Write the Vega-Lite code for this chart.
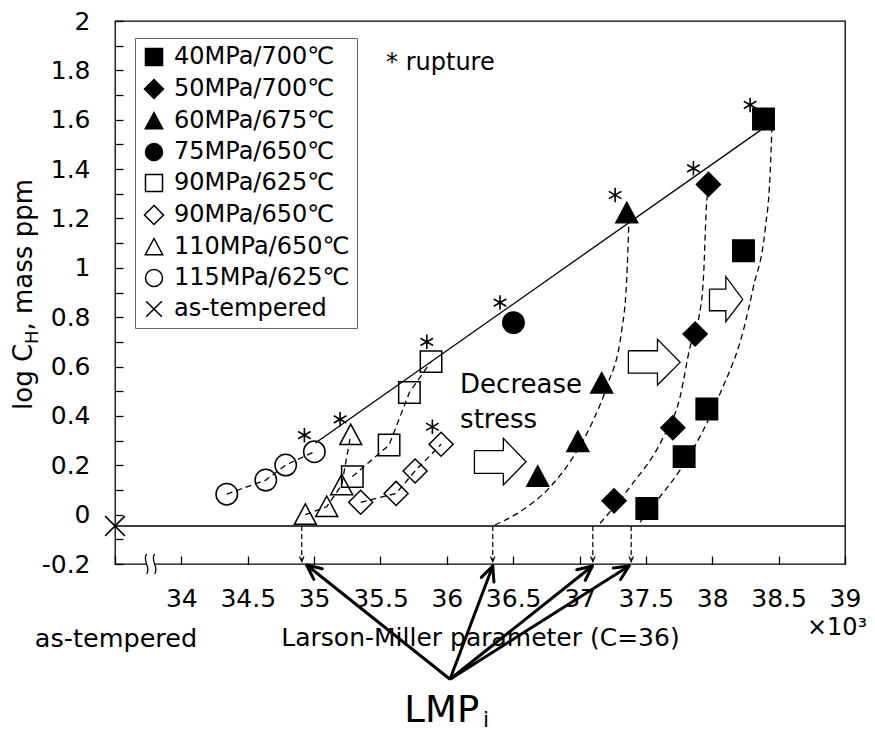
{
  "$schema": "https://vega.github.io/schema/vega-lite/v6.json",
  "width": 730,
  "height": 543,
  "autosize": {"type": "none"},
  "padding": {"left": 115, "top": 21, "right": 30, "bottom": 169},
  "background": "white",
  "config": {"font": "DejaVu Sans", "view": {"stroke": "black", "strokeWidth": 1.3}},
  "datasets": {
    "pts": [
      {"s": "40MPa/700℃", "x": 37.507, "y": 0.025},
      {"s": "40MPa/700℃", "x": 37.788, "y": 0.235},
      {"s": "40MPa/700℃", "x": 37.959, "y": 0.428},
      {"s": "40MPa/700℃", "x": 38.235, "y": 1.069},
      {"s": "40MPa/700℃", "x": 38.386, "y": 1.603},
      {"s": "50MPa/700℃", "x": 37.26, "y": 0.056},
      {"s": "50MPa/700℃", "x": 37.703, "y": 0.352},
      {"s": "50MPa/700℃", "x": 37.871, "y": 0.732},
      {"s": "50MPa/700℃", "x": 37.971, "y": 1.338},
      {"s": "60MPa/675℃", "x": 36.685, "y": 0.154},
      {"s": "60MPa/675℃", "x": 36.987, "y": 0.295},
      {"s": "60MPa/675℃", "x": 37.167, "y": 0.532},
      {"s": "60MPa/675℃", "x": 37.356, "y": 1.222},
      {"s": "75MPa/650℃", "x": 36.502, "y": 0.778},
      {"s": "90MPa/625℃", "x": 35.288, "y": 0.154},
      {"s": "90MPa/625℃", "x": 35.565, "y": 0.282},
      {"s": "90MPa/625℃", "x": 35.718, "y": 0.495},
      {"s": "90MPa/625℃", "x": 35.881, "y": 0.62},
      {"s": "90MPa/650℃", "x": 35.351, "y": 0.05},
      {"s": "90MPa/650℃", "x": 35.618, "y": 0.086},
      {"s": "90MPa/650℃", "x": 35.761, "y": 0.177},
      {"s": "90MPa/650℃", "x": 35.957, "y": 0.285},
      {"s": "110MPa/650℃", "x": 34.934, "y": 0.0},
      {"s": "110MPa/650℃", "x": 35.095, "y": 0.032},
      {"s": "110MPa/650℃", "x": 35.208, "y": 0.12},
      {"s": "110MPa/650℃", "x": 35.276, "y": 0.323},
      {"s": "115MPa/625℃", "x": 34.342, "y": 0.083},
      {"s": "115MPa/625℃", "x": 34.636, "y": 0.14},
      {"s": "115MPa/625℃", "x": 34.786, "y": 0.201},
      {"s": "115MPa/625℃", "x": 35.002, "y": 0.255},
      {"s": "as-tempered", "x": 33.5, "y": -0.046}
    ],
    "base": [{"x": 33.5, "x2": 39, "y": -0.046}],
    "fit": [{"x": 35.01, "y": 0.29}, {"x": 38.37, "y": 1.56}],
    "lin": [
      {"c": "a115", "x": 34.342, "y": 0.083}, {"c": "a115", "x": 34.636, "y": 0.14}, {"c": "a115", "x": 34.786, "y": 0.201}, {"c": "a115", "x": 35.002, "y": 0.255},
      {"c": "a110", "x": 34.934, "y": 0.0}, {"c": "a110", "x": 35.095, "y": 0.032}, {"c": "a110", "x": 35.208, "y": 0.12}, {"c": "a110", "x": 35.276, "y": 0.323},
      {"c": "a90a", "x": 35.288, "y": 0.154}, {"c": "a90a", "x": 35.565, "y": 0.282}, {"c": "a90a", "x": 35.718, "y": 0.495}, {"c": "a90a", "x": 35.881, "y": 0.62},
      {"c": "a90b", "x": 35.351, "y": 0.05}, {"c": "a90b", "x": 35.618, "y": 0.086}, {"c": "a90b", "x": 35.761, "y": 0.177}, {"c": "a90b", "x": 35.957, "y": 0.285}
    ],
    "crv": [
      {"c": "c60", "x": 36.362, "y": -0.042}, {"c": "c60", "x": 36.552, "y": 0.012}, {"c": "c60", "x": 36.78, "y": 0.113}, {"c": "c60", "x": 36.954, "y": 0.235}, {"c": "c60", "x": 37.104, "y": 0.383}, {"c": "c60", "x": 37.205, "y": 0.518}, {"c": "c60", "x": 37.318, "y": 0.748}, {"c": "c60", "x": 37.355, "y": 0.951}, {"c": "c60", "x": 37.372, "y": 1.19},
      {"c": "c50", "x": 37.155, "y": -0.035}, {"c": "c50", "x": 37.381, "y": 0.113}, {"c": "c50", "x": 37.62, "y": 0.302}, {"c": "c50", "x": 37.758, "y": 0.478}, {"c": "c50", "x": 37.833, "y": 0.68}, {"c": "c50", "x": 37.896, "y": 0.789}, {"c": "c50", "x": 37.934, "y": 0.964}, {"c": "c50", "x": 37.959, "y": 1.275}, {"c": "c50", "x": 37.962, "y": 1.29},
      {"c": "c40", "x": 37.456, "y": -0.03}, {"c": "c40", "x": 37.607, "y": 0.073}, {"c": "c40", "x": 37.758, "y": 0.181}, {"c": "c40", "x": 37.933, "y": 0.343}, {"c": "c40", "x": 38.059, "y": 0.491}, {"c": "c40", "x": 38.235, "y": 0.748}, {"c": "c40", "x": 38.31, "y": 0.923}, {"c": "c40", "x": 38.398, "y": 1.153}, {"c": "c40", "x": 38.436, "y": 1.383}, {"c": "c40", "x": 38.449, "y": 1.56}
    ],
    "drops": [
      {"x": 34.907, "y": -0.046, "y2": -0.19},
      {"x": 36.346, "y": -0.046, "y2": -0.19},
      {"x": 37.1, "y": -0.046, "y2": -0.19},
      {"x": 37.389, "y": -0.046, "y2": -0.19}
    ],
    "arrows": [
      {"x": 36.024, "y": -0.667, "x2": 34.944, "y2": -0.204},
      {"x": 36.024, "y": -0.667, "x2": 36.346, "y2": -0.208},
      {"x": 36.024, "y": -0.667, "x2": 37.097, "y2": -0.208},
      {"x": 36.024, "y": -0.667, "x2": 37.373, "y2": -0.208}
    ],
    "wings": [
      {"x": 34.944, "y": -0.204, "x2": 34.998, "y2": -0.262},
      {"x": 34.944, "y": -0.204, "x2": 35.062, "y2": -0.219},
      {"x": 36.346, "y": -0.208, "x2": 36.26, "y2": -0.254},
      {"x": 36.346, "y": -0.208, "x2": 36.355, "y2": -0.273},
      {"x": 37.097, "y": -0.208, "x2": 36.979, "y2": -0.223},
      {"x": 37.097, "y": -0.208, "x2": 37.043, "y2": -0.266},
      {"x": 37.373, "y": -0.208, "x2": 37.254, "y2": -0.216},
      {"x": 37.373, "y": -0.208, "x2": 37.309, "y2": -0.263}
    ],
    "blk": [
      {"a": 1, "k": 1, "x": 36.208, "y": 0.259}, {"a": 1, "k": 2, "x": 36.426, "y": 0.259}, {"a": 1, "k": 3, "x": 36.426, "y": 0.309}, {"a": 1, "k": 4, "x": 36.597, "y": 0.214}, {"a": 1, "k": 5, "x": 36.426, "y": 0.12}, {"a": 1, "k": 6, "x": 36.426, "y": 0.167}, {"a": 1, "k": 7, "x": 36.208, "y": 0.167}, {"a": 1, "k": 8, "x": 36.208, "y": 0.259},
      {"a": 2, "k": 1, "x": 37.368, "y": 0.664}, {"a": 2, "k": 2, "x": 37.587, "y": 0.664}, {"a": 2, "k": 3, "x": 37.587, "y": 0.71}, {"a": 2, "k": 4, "x": 37.758, "y": 0.617}, {"a": 2, "k": 5, "x": 37.587, "y": 0.525}, {"a": 2, "k": 6, "x": 37.587, "y": 0.573}, {"a": 2, "k": 7, "x": 37.368, "y": 0.573}, {"a": 2, "k": 8, "x": 37.368, "y": 0.664},
      {"a": 3, "k": 1, "x": 37.979, "y": 0.914}, {"a": 3, "k": 2, "x": 38.102, "y": 0.914}, {"a": 3, "k": 3, "x": 38.102, "y": 0.964}, {"a": 3, "k": 4, "x": 38.23, "y": 0.872}, {"a": 3, "k": 5, "x": 38.102, "y": 0.782}, {"a": 3, "k": 6, "x": 38.102, "y": 0.826}, {"a": 3, "k": 7, "x": 37.979, "y": 0.826}, {"a": 3, "k": 8, "x": 37.979, "y": 0.914}
    ],
    "stars": [
      {"x": 34.927, "y": 0.322}, {"x": 35.196, "y": 0.386}, {"x": 35.849, "y": 0.7}, {"x": 35.891, "y": 0.356},
      {"x": 36.401, "y": 0.859}, {"x": 37.268, "y": 1.295}, {"x": 37.858, "y": 1.403}, {"x": 38.285, "y": 1.66}
    ],
    "brk": [{"x": 33.776, "y": -0.2}],
    "txt": [
      {"g": "yt1", "t": "log C", "x": 32.875, "y": 0.424},
      {"g": "yt2", "t": "H", "x": 32.875, "y": 0.691},
      {"g": "yt3", "t": ", mass ppm", "x": 32.875, "y": 0.746},
      {"g": "dec", "t": "Decrease", "x": 36.1, "y": 0.4915},
      {"g": "dec", "t": "stress", "x": 36.1, "y": 0.351},
      {"g": "rup", "t": "* rupture", "x": 35.542, "y": 1.8},
      {"g": "ast", "t": "as-tempered", "x": 33.5075, "y": -0.535},
      {"g": "ten", "t": "×10³", "x": 38.713, "y": -0.486},
      {"g": "lmp", "t": "LMP", "x": 35.68, "y": -0.839},
      {"g": "sub", "t": "i", "x": 36.273, "y": -0.862}
    ]
  },
  "encoding": {
    "x": {
      "field": "x", "type": "quantitative",
      "scale": {"domain": [33.5, 39], "nice": false, "zero": false},
      "axis": {
        "values": [33.5, 34, 34.5, 35, 35.5, 36, 36.5, 37, 37.5, 38, 38.5, 39],
        "labelExpr": "datum.value < 33.9 ? '' : format(datum.value, '.1~f')",
        "domain": false, "grid": false,
        "tickSize": -8, "tickColor": "black", "tickWidth": 1.3,
        "labelFont": "DejaVu Sans", "labelFontSize": 25, "labelColor": "black",
        "labelPadding": 30.5, "labelFlush": false, "labelOverlap": false,
        "title": "Larson-Miller parameter (C=36)",
        "titleFont": "DejaVu Sans", "titleFontSize": 25, "titleFontWeight": "normal", "titleColor": "black",
        "titleY": 81, "titleBaseline": "alphabetic"
      }
    },
    "y": {
      "field": "y", "type": "quantitative",
      "scale": {"domain": [-0.2, 2], "nice": false, "zero": false},
      "axis": {
        "values": [-0.2, -0.1, 0, 0.1, 0.2, 0.3, 0.4, 0.5, 0.6, 0.7, 0.8, 0.9, 1, 1.1, 1.2, 1.3, 1.4, 1.5, 1.6, 1.7, 1.8, 1.9, 2],
        "labelExpr": "datum.value < -0.15 ? '-0.2' : (round(datum.value * 10) % 2 == 0 ? format(datum.value, '.1~f') : '')",
        "domain": false, "grid": false,
        "tickSize": -8, "tickColor": "black", "tickWidth": 1.3,
        "labelFont": "DejaVu Sans", "labelFontSize": 25, "labelColor": "black",
        "labelPadding": 33, "labelFlush": false, "labelOverlap": false,
        "title": null
      }
    }
  },
  "layer": [
    {"data": {"name": "base"}, "mark": {"type": "rule", "color": "black", "strokeWidth": 1.3},
     "encoding": {"x2": {"field": "x2"}}},
    {"data": {"name": "fit"}, "mark": {"type": "line", "color": "black", "strokeWidth": 1.3}, "encoding": {}},
    {"data": {"name": "lin"}, "mark": {"type": "line", "color": "black", "strokeWidth": 1.3, "strokeDash": [6, 4]},
     "encoding": {"detail": {"field": "c"}}},
    {"data": {"name": "crv"}, "mark": {"type": "line", "color": "black", "strokeWidth": 1.3, "strokeDash": [6, 4], "interpolate": "monotone"},
     "encoding": {"detail": {"field": "c"}}},
    {"data": {"name": "drops"}, "mark": {"type": "rule", "color": "black", "strokeWidth": 1.2, "strokeDash": [5, 3]},
     "encoding": {"y2": {"field": "y2"}}},
    {"data": {"name": "drops"}, "mark": {"type": "point", "shape": "M-0.45,-1L0,0L0.45,-1", "size": 100, "stroke": "black", "strokeWidth": 1.2, "fill": "transparent", "opacity": 1},
     "encoding": {"y": {"field": "y2", "type": "quantitative"}}},
    {"data": {"name": "arrows"}, "mark": {"type": "rule", "color": "black", "strokeWidth": 3},
     "encoding": {"x2": {"field": "x2"}, "y2": {"field": "y2"}}},
    {"data": {"name": "wings"}, "mark": {"type": "rule", "color": "black", "strokeWidth": 3, "strokeCap": "round"},
     "encoding": {"x2": {"field": "x2"}, "y2": {"field": "y2"}}},
    {"data": {"name": "blk"}, "mark": {"type": "line", "color": "black", "strokeWidth": 1.3},
     "encoding": {"detail": {"field": "a"}, "order": {"field": "k", "type": "quantitative"}}},
    {"data": {"name": "pts"},
     "mark": {"type": "point", "filled": true, "strokeWidth": 1.5, "opacity": 1, "size": 460},
     "encoding": {
       "shape": {"field": "s", "type": "nominal", "title": null,
         "scale": {"domain": ["40MPa/700℃", "50MPa/700℃", "60MPa/675℃", "75MPa/650℃", "90MPa/625℃", "90MPa/650℃", "110MPa/650℃", "115MPa/625℃", "as-tempered"],
                   "range": ["square", "M0,-1.12L1.12,0L0,1.12L-1.12,0Z", "M0,-1L1.02,0.9L-1.02,0.9Z", "circle", "square", "M0,-1.12L1.12,0L0,1.12L-1.12,0Z", "M0,-1L1.02,0.9L-1.02,0.9Z", "circle", "M-0.92,-0.92L0.92,0.92M-0.92,0.92L0.92,-0.92"]},
         "legend": {"title": null, "orient": "none", "legendX": 20, "legendY": 17, "strokeColor": "#666", "fillColor": "white",
                    "padding": 7, "labelFont": "DejaVu Sans", "labelFontSize": 24, "labelColor": "black", "labelOffset": 8, "labelLimit": 400,
                    "symbolSize": 290, "symbolStrokeWidth": 1.5, "rowPadding": 7}},
       "fill": {"field": "s", "type": "nominal", "title": null,
         "scale": {"domain": ["40MPa/700℃", "50MPa/700℃", "60MPa/675℃", "75MPa/650℃", "90MPa/625℃", "90MPa/650℃", "110MPa/650℃", "115MPa/625℃", "as-tempered"],
                   "range": ["black", "black", "black", "black", "transparent", "transparent", "transparent", "transparent", "transparent"]},
         "legend": {"title": null, "orient": "none", "legendX": 20, "legendY": 17, "strokeColor": "#666", "fillColor": "white",
                    "padding": 7, "labelFont": "DejaVu Sans", "labelFontSize": 24, "labelColor": "black", "labelOffset": 8, "labelLimit": 400,
                    "symbolSize": 290, "symbolStrokeWidth": 1.5, "rowPadding": 7}},
       "stroke": {"field": "s", "type": "nominal", "title": null,
         "scale": {"domain": ["40MPa/700℃", "50MPa/700℃", "60MPa/675℃", "75MPa/650℃", "90MPa/625℃", "90MPa/650℃", "110MPa/650℃", "115MPa/625℃", "as-tempered"],
                   "range": ["black", "black", "black", "black", "black", "black", "black", "black", "black"]},
         "legend": {"title": null, "orient": "none", "legendX": 20, "legendY": 17, "strokeColor": "#666", "fillColor": "white",
                    "padding": 7, "labelFont": "DejaVu Sans", "labelFontSize": 24, "labelColor": "black", "labelOffset": 8, "labelLimit": 400,
                    "symbolSize": 290, "symbolStrokeWidth": 1.5, "rowPadding": 7}}
     }},
    {"data": {"name": "stars"}, "mark": {"type": "point", "shape": "M0,-1L0,1M-0.87,-0.5L0.87,0.5M-0.87,0.5L0.87,-0.5", "size": 210, "stroke": "black", "strokeWidth": 1.6, "fill": "transparent", "opacity": 1}},
    {"data": {"name": "brk"}, "mark": {"type": "point", "shape": "M-0.5,-1C-1,-0.4,0,0.4,-0.5,1L0.3,1C0.8,0.4,-0.2,-0.4,0.3,-1Z", "size": 400, "fill": "white", "strokeWidth": 0, "filled": true, "opacity": 1}},
    {"data": {"name": "brk"}, "mark": {"type": "point", "shape": "M-0.5,-1C-1,-0.4,0,0.4,-0.5,1M0.3,-1C-0.2,-0.4,0.8,0.4,0.3,1", "size": 400, "stroke": "black", "strokeWidth": 1.3, "fill": "transparent", "opacity": 1}},
    {"data": {"name": "txt"}, "transform": [{"filter": "datum.g == 'yt1' || datum.g == 'yt3'"}],
     "mark": {"type": "text", "angle": 270, "align": "left", "baseline": "alphabetic", "font": "DejaVu Sans", "fontSize": 26, "color": "black"},
     "encoding": {"text": {"field": "t"}}},
    {"data": {"name": "txt"}, "transform": [{"filter": "datum.g == 'yt2'"}],
     "mark": {"type": "text", "angle": 270, "align": "left", "baseline": "alphabetic", "dy": 6, "font": "DejaVu Sans", "fontSize": 18, "color": "black"},
     "encoding": {"text": {"field": "t"}}},
    {"data": {"name": "txt"}, "transform": [{"filter": "datum.g == 'dec'"}],
     "mark": {"type": "text", "align": "left", "baseline": "alphabetic", "font": "DejaVu Sans", "fontSize": 26, "color": "black"},
     "encoding": {"text": {"field": "t"}}},
    {"data": {"name": "txt"}, "transform": [{"filter": "datum.g == 'rup'"}],
     "mark": {"type": "text", "align": "left", "baseline": "alphabetic", "font": "DejaVu Sans", "fontSize": 24, "color": "black"},
     "encoding": {"text": {"field": "t"}}},
    {"data": {"name": "txt"}, "transform": [{"filter": "datum.g == 'ast'"}],
     "mark": {"type": "text", "align": "center", "baseline": "alphabetic", "font": "DejaVu Sans", "fontSize": 25.5, "color": "black"},
     "encoding": {"text": {"field": "t"}}},
    {"data": {"name": "txt"}, "transform": [{"filter": "datum.g == 'ten'"}],
     "mark": {"type": "text", "align": "left", "baseline": "alphabetic", "font": "DejaVu Sans", "fontSize": 24, "color": "black"},
     "encoding": {"text": {"field": "t"}}},
    {"data": {"name": "txt"}, "transform": [{"filter": "datum.g == 'lmp'"}],
     "mark": {"type": "text", "align": "left", "baseline": "alphabetic", "font": "DejaVu Sans", "fontSize": 37, "color": "black"},
     "encoding": {"text": {"field": "t"}}},
    {"data": {"name": "txt"}, "transform": [{"filter": "datum.g == 'sub'"}],
     "mark": {"type": "text", "align": "left", "baseline": "alphabetic", "font": "DejaVu Sans", "fontSize": 22, "color": "black"},
     "encoding": {"text": {"field": "t"}}}
  ]
}
